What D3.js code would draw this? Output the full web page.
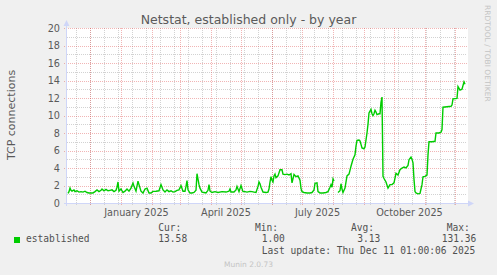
<!DOCTYPE html>
<html>
<head>
<meta charset="utf-8">
<script src="https://cdn.jsdelivr.net/npm/d3@7"></script>
<style>
  html, body { margin: 0; padding: 0; background: #f0f0f0; }
  svg { display: block; }
  text { font-family: "DejaVu Sans", sans-serif; fill: #5a5a5a; }
  .mono { font-family: "DejaVu Sans Mono", monospace; fill: #505050; }
</style>
</head>
<body>
<svg id="chart" width="497" height="275"></svg>
<script>
// values
var dates = [
  "2024-11-09","2024-11-10","2024-11-11","2024-11-12","2024-11-13","2024-11-15","2024-11-16","2024-11-18",
  "2024-11-20","2024-11-22","2024-11-24","2024-11-26","2024-11-28","2024-11-30","2024-12-02","2024-12-04",
  "2024-12-06","2024-12-08","2024-12-10","2024-12-12","2024-12-13","2024-12-15","2024-12-17","2024-12-19",
  "2024-12-21","2024-12-23","2024-12-25","2024-12-27","2024-12-28","2024-12-29","2024-12-30","2025-01-01",
  "2025-01-03","2025-01-05","2025-01-07","2025-01-09","2025-01-11","2025-01-13","2025-01-14","2025-01-16",
  "2025-01-18","2025-01-19","2025-01-21","2025-01-23","2025-01-25","2025-01-27","2025-01-29","2025-01-31",
  "2025-02-02","2025-02-05","2025-02-08","2025-02-10","2025-02-12","2025-02-14","2025-02-16","2025-02-18",
  "2025-02-20","2025-02-22","2025-02-24","2025-02-26","2025-02-28","2025-03-02","2025-03-04","2025-03-06",
  "2025-03-07","2025-03-08","2025-03-09","2025-03-11","2025-03-13","2025-03-15","2025-03-17","2025-03-18",
  "2025-03-20","2025-03-21","2025-03-23","2025-03-25","2025-03-27","2025-03-29","2025-03-30","2025-03-31",
  "2025-04-02","2025-04-05","2025-04-08","2025-04-12","2025-04-16","2025-04-19","2025-04-20","2025-04-21",
  "2025-04-24","2025-04-26","2025-04-27","2025-04-29","2025-05-01","2025-05-03","2025-05-05","2025-05-07",
  "2025-05-10","2025-05-12","2025-05-14","2025-05-16","2025-05-18","2025-05-19","2025-05-20","2025-05-21",
  "2025-05-23","2025-05-26","2025-05-28","2025-05-29","2025-05-30","2025-05-31","2025-06-01","2025-06-02",
  "2025-06-03","2025-06-04","2025-06-05","2025-06-07","2025-06-09","2025-06-11","2025-06-12","2025-06-14",
  "2025-06-16","2025-06-18","2025-06-20","2025-06-21","2025-06-23","2025-06-25","2025-06-27","2025-06-29",
  "2025-06-30","2025-07-01","2025-07-03","2025-07-06","2025-07-09","2025-07-11","2025-07-13","2025-07-14",
  "2025-07-16","2025-07-17","2025-07-19","2025-07-22","2025-07-25","2025-07-27","2025-07-29","2025-07-30",
  "2025-07-31","2025-08-01","2025-08-02","2025-08-03","2025-08-04","2025-08-05","2025-08-06","2025-08-08",
  "2025-08-09","2025-08-10","2025-08-11","2025-08-13","2025-08-15","2025-08-17","2025-08-19","2025-08-21",
  "2025-08-23","2025-08-24","2025-08-25","2025-08-27","2025-08-28","2025-08-29","2025-08-30","2025-09-01",
  "2025-09-02","2025-09-03","2025-09-04","2025-09-05","2025-09-06","2025-09-07","2025-09-08","2025-09-09",
  "2025-09-10","2025-09-11","2025-09-12","2025-09-13","2025-09-14","2025-09-16","2025-09-17","2025-09-18",
  "2025-09-19","2025-09-20","2025-09-21","2025-09-23","2025-09-25","2025-09-26","2025-09-27","2025-09-29",
  "2025-10-01","2025-10-03","2025-10-05","2025-10-07","2025-10-09","2025-10-11","2025-10-13","2025-10-15",
  "2025-10-16","2025-10-18","2025-10-19","2025-10-20","2025-10-21","2025-10-22","2025-10-23","2025-10-25",
  "2025-10-27","2025-10-28","2025-10-29","2025-10-30","2025-11-01","2025-11-03","2025-11-04","2025-11-05",
  "2025-11-08","2025-11-11","2025-11-12","2025-11-15","2025-11-17","2025-11-18","2025-11-19","2025-11-23",
  "2025-11-27","2025-11-28","2025-11-29","2025-12-03","2025-12-04","2025-12-06","2025-12-08","2025-12-10",
  "2025-12-11"
];
var established = [
  1.1, 1.3, 1.7, 1.45, 1.35, 1.5, 1.3, 1.4,
  1.25, 1.3, 1.25, 1.35, 1.2, 1.15, 1.15, 1.15,
  1.3, 1.5, 1.3, 1.45, 1.6, 1.4, 1.55, 1.4,
  1.45, 1.5, 1.3, 1.45, 1.8, 2.4, 1.35, 1.6,
  1.2, 1.35, 1.6, 1.35, 1.7, 2.28, 1.9, 1.35,
  2.5, 2.1, 1.35, 1.14, 1.6, 1.7, 1.14, 1.14,
  1.33, 1.35, 1.4, 2.1, 1.5, 1.25, 1.5, 1.3,
  1.4, 1.25, 1.3, 1.45, 1.5, 2.0, 1.35, 1.35,
  1.9, 2.55, 1.5, 1.14, 1.14, 1.2, 1.45, 3.35,
  2.1, 1.7, 1.25, 1.2, 1.14, 1.45, 2.1, 1.35,
  1.2, 1.3, 1.2, 1.3, 1.25, 1.35, 1.6, 1.25,
  1.25, 1.5, 1.9, 1.3, 2.0, 1.3, 1.3, 1.25,
  1.33, 1.3, 1.25, 1.2, 1.9, 2.4, 2.2, 1.8,
  1.25, 1.2, 1.25, 1.6, 2.4, 3.0, 2.6, 2.4,
  3.1, 3.3, 2.9, 3.1, 3.8, 3.8, 3.3, 3.25,
  3.3, 3.2, 3.35, 2.3, 3.25, 3.0, 3.1, 2.6,
  1.7, 1.3, 1.2, 1.15, 1.15, 1.2, 1.5, 2.25,
  2.3, 1.3, 1.15, 1.15, 1.2, 1.3, 1.8, 2.1,
  1.8, 2.75, 2.5, null, null, null, 1.2, 1.4,
  2.2, 1.6, 1.2, 1.7, 3.1, 3.3, 4.2, 5.0,
  5.5, 6.5, 7.15, 7.2, 7.1, 6.7, 6.3, 6.2,
  6.4, 7.2, 8.0, 9.0, 10.3, 10.5, 10.7, 10.2,
  10.0, 10.2, 10.6, 10.4, 10.1, 10.2, 10.2, 11.5,
  12.1, 3.05, 2.8, 2.4, 1.7, 1.9, 2.1, 2.1,
  2.3, 3.4, 3.2, 3.8, 4.0, 4.1, 4.0, 4.3,
  4.95, 5.25, 5.0, 4.6, 2.7, 1.3, 1.14, 1.05,
  1.1, 1.6, 2.1, 3.0, 3.05, 3.2, 5.5, 7.0,
  7.0, 7.05, 8.0, 8.0, 8.1, 8.4, 10.95, 11.0,
  11.05, 11.2, 11.9, 11.95, 13.3, 12.9, 13.0, 13.85,
  13.58
];
var yTicks = [0, 2, 4, 6, 8, 10, 12, 14, 16, 18, 20];
var legendHeads = ["Cur:", "Min:", "Avg:", "Max:"];
var legendValues = ["13.58", "1.00", "3.13", "131.36"];

var parse = d3.timeParse("%Y-%m-%d");
var data = dates.map(function (d, i) {
  return { date: parse(d), value: established[i] };
});

var svg = d3.select("#chart");
var start = new Date(2024, 10, 8), end = new Date(2025, 11, 13);
var x = d3.scaleTime().domain([start, end]).range([67, 467]);
var y = d3.scaleLinear().domain([0, 20]).range([203, 28]);

var minorCol = "#d2d2d2", majorCol = "rgba(222,79,79,0.42)";

// canvas
svg.append("rect").attr("x", 67).attr("y", 28).attr("width", 401).attr("height", 175).attr("fill", "#fff");

// grid: minor then major
var minorY = d3.range(0, 21).filter(function (v) { return v % 2; });
svg.selectAll(".gy").data(minorY).enter().append("line")
  .attr("x1", 67).attr("x2", 467)
  .attr("y1", function (d) { return Math.round(y(d)) + 0.5; })
  .attr("y2", function (d) { return Math.round(y(d)) + 0.5; })
  .attr("stroke", minorCol).attr("stroke-dasharray", "1,1");

var weeks = d3.timeWeek.range(new Date(2024, 10, 3), end, 2).filter(function (d) { return d > start; });
svg.selectAll(".gx").data(weeks).enter().append("line")
  .attr("x1", function (d) { return Math.round(x(d)) + 0.5; })
  .attr("x2", function (d) { return Math.round(x(d)) + 0.5; })
  .attr("y1", 28).attr("y2", 206)
  .attr("stroke", minorCol).attr("stroke-dasharray", "1,1");

svg.selectAll(".my").data(yTicks.slice(1)).enter().append("line")
  .attr("x1", 64).attr("x2", 467)
  .attr("y1", function (d) { return Math.round(y(d)) + 0.5; })
  .attr("y2", function (d) { return Math.round(y(d)) + 0.5; })
  .attr("stroke", majorCol).attr("stroke-dasharray", "1,1");

var months = d3.timeMonth.range(start, end);
svg.selectAll(".mx").data(months).enter().append("line")
  .attr("x1", function (d) { return Math.round(x(d)) + 0.5; })
  .attr("x2", function (d) { return Math.round(x(d)) + 0.5; })
  .attr("y1", 28).attr("y2", 206)
  .attr("stroke", majorCol).attr("stroke-dasharray", "1,1");

// y labels
svg.selectAll(".yl").data(yTicks).enter().append("text")
  .attr("x", 60).attr("y", function (d) { return y(d) + 3.5; })
  .attr("text-anchor", "end").style("font-size", "9.7px")
  .text(function (d) { return d; });

// x labels, centred in the middle of each quarter's first month
var quarters = d3.timeMonth.every(3).range(start, end);
svg.selectAll(".xl").data(quarters).enter().append("text")
  .attr("x", function (d) { return (x(d) + x(d3.timeMonth.offset(d, 1))) / 2; })
  .attr("y", 216).attr("text-anchor", "middle").style("font-size", "9.7px")
  .text(d3.timeFormat("%B %Y"));

// axes with arrows
var axisCol = "#cfd6f8";
svg.append("line").attr("x1", 66.5).attr("x2", 66.5).attr("y1", 25).attr("y2", 206)
  .attr("stroke", axisCol);
svg.append("line").attr("x1", 64).attr("x2", 469).attr("y1", 203.5).attr("y2", 203.5)
  .attr("stroke", axisCol);
svg.append("path").attr("d", "M63.5,26L66.5,20L69.5,26Z").attr("fill", axisCol);
svg.append("path").attr("d", "M468,200.5L474,203.5L468,206.5Z").attr("fill", axisCol);

// data line
var line = d3.line()
  .defined(function (d) { return d.value != null; })
  .x(function (d) { return x(d.date); })
  .y(function (d) { return y(d.value); });
svg.append("path").datum(data).attr("d", line)
  .attr("fill", "none").attr("stroke", "#00cc00").attr("stroke-width", 1.4);

// titles
svg.append("text").attr("x", 248.5).attr("y", 24).attr("text-anchor", "middle")
  .style("font-size", "12.5px").text("Netstat, established only - by year");
svg.append("text").attr("transform", "translate(15,115) rotate(-90)")
  .attr("text-anchor", "middle").style("font-size", "11px").text("TCP connections");
svg.append("text").attr("transform", "translate(485,5) rotate(90)")
  .style("font-size", "7.5px").style("fill", "#c4c4c4").text("RRDTOOL / TOBI OETIKER");

// legend
svg.append("rect").attr("x", 14).attr("y", 237).attr("width", 6).attr("height", 6).attr("fill", "#00cc00");
svg.append("text").attr("class", "mono").attr("x", 26).attr("y", 242)
  .style("font-size", "9.6px").text("established");
var headX = [158.3, 255, 351, 446.7];
var valX = [158.3, 261.7, 357.3, 441.7];
svg.selectAll(".lh").data(legendHeads).enter().append("text")
  .attr("class", "mono").attr("x", function (d, i) { return headX[i]; }).attr("y", 230.5)
  .style("font-size", "9.6px").text(function (d) { return d; });
svg.selectAll(".lv").data(legendValues).enter().append("text")
  .attr("class", "mono").attr("x", function (d, i) { return valX[i]; }).attr("y", 242)
  .style("font-size", "9.6px").text(function (d) { return d; });
svg.append("text").attr("class", "mono").attr("x", 261.7).attr("y", 254)
  .style("font-size", "9.6px").text("Last update: Thu Dec 11 01:00:06 2025");
svg.append("text").attr("x", 248.5).attr("y", 266.5).attr("text-anchor", "middle")
  .style("font-size", "7.5px").style("fill", "#c4c4c4").text("Munin 2.0.73");
</script>
</body>
</html>
